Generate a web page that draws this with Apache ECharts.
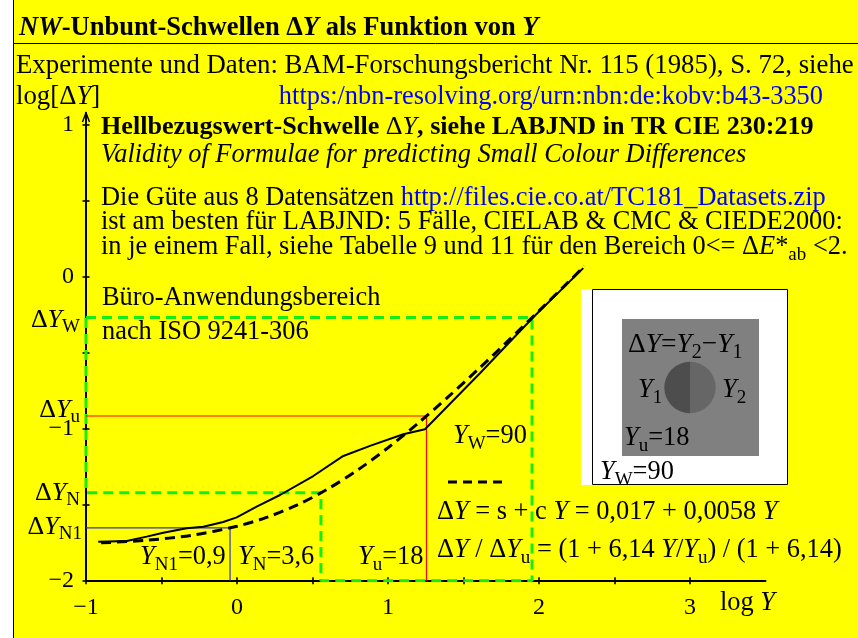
<!DOCTYPE html>
<html><head><meta charset="utf-8">
<script src="https://cdn.jsdelivr.net/npm/echarts@6/dist/echarts.min.js"></script>
<style>html,body{margin:0;padding:0;background:#fff}#c{width:858px;height:638px}</style>
</head><body><div id="c"></div>
<script>
// ---- data (log Y, log ΔY) ----
const solidLogY  = [-0.919,-0.730,-0.598,-0.488,-0.333,-0.223,-0.091,-0.002,0.130,0.285,0.505,0.704,0.881,1.101,1.245,1.609,1.962,2.293];
const solidLogDY = [-1.743,-1.739,-1.710,-1.684,-1.655,-1.645,-1.614,-1.583,-1.513,-1.436,-1.311,-1.179,-1.113,-1.036,-1.003,-0.635,-0.266,0.057];
const dashLogY   = [-0.9,-0.6,-0.3,0.0,0.2,0.4,0.6,0.8,1.0,1.2,1.4,1.6,1.8,2.0,2.2,2.3];
const dashLogDY  = [-1.751,-1.734,-1.701,-1.642,-1.582,-1.501,-1.397,-1.271,-1.125,-0.963,-0.789,-0.606,-0.417,-0.224,-0.029,0.070];
// thresholds: Y_N1=0.9, Y_N=3.6, Y_u=18, Y_W=90
const thrLogY  = {N1:-0.046, N:0.556, u:1.255, W:1.954};
const thrLogDY = {N1:-1.653, N:-1.421, u:-0.916, W:-0.268};
const xTicks = [-1,-0.5,0,0.5,1,1.5,2,2.5,3];
const xLabels = [-1,0,1,2,3];
const yTicks = [-2,-1.5,-1,-0.5,0,0.5,1];
const yLabels = [-2,-1,0,1];
const xMin=-1, xMax=3.5, yMin=-2, yMax=1.08;

const SERIF='"Liberation Serif","Times New Roman",serif';
function rich(fs){
  const sub=Math.round(fs*0.72);
  return {
    n:{fontSize:fs,fontFamily:SERIF,fill:'#000',lineHeight:fs+8},
    i:{fontSize:fs,fontFamily:SERIF,fontStyle:'italic',fill:'#000',lineHeight:fs+8},
    b:{fontSize:fs,fontFamily:SERIF,fontWeight:'bold',fill:'#000',lineHeight:fs+8},
    bi:{fontSize:fs,fontFamily:SERIF,fontWeight:'bold',fontStyle:'italic',fill:'#000',lineHeight:fs+8},
    s:{fontSize:sub,fontFamily:SERIF,fill:'#000',verticalAlign:'bottom',lineHeight:sub},
    u:{fontSize:fs,fontFamily:SERIF,fill:'#0000ff',lineHeight:fs+8}
  };
}
function T(x,y,text,fs,align){
  fs=fs||26.4;
  return {type:'text',x:x,y:y,z:50,silent:true,
    style:{text:text,rich:rich(fs),fontSize:fs,fontFamily:SERIF,
      align:align||'left',verticalAlign:'middle',textAlign:align||'left',textVerticalAlign:'middle'}};
}
function L(x1,y1,x2,y2,w,z){
  return {type:'line',shape:{x1:x1,y1:y1,x2:x2,y2:y2},style:{stroke:'#000',lineWidth:w||1},silent:true,z:z||0};
}
function pairs(xs,ys){return xs.map((x,i)=>[x,ys[i]]);}
const minus = v => (v<0?'\u2212':'')+Math.abs(v);

const chart = echarts.init(document.getElementById('c'),null,{renderer:'canvas'});
const axisLineStyle={color:'#000',width:2};
const tickStyle={color:'#000',width:1.6};
chart.setOption({
  animation:false,
  backgroundColor:'#ffff00',
  grid:{left:86,top:112.7,width:679.5,height:468,containLabel:false},
  xAxis:[
    {type:'value',min:xMin,max:xMax,position:'bottom',z:10,
     axisLine:{show:true,onZero:false,lineStyle:axisLineStyle},
     axisTick:{show:true,customValues:xTicks,length:3.5,lineStyle:tickStyle},
     axisLabel:{show:true,customValues:xLabels,formatter:minus,margin:15,
       fontSize:24,fontFamily:SERIF,color:'#000'},
     splitLine:{show:false}},
    {type:'value',min:xMin,max:xMax,position:'bottom',z:10,
     axisLine:{show:false,onZero:false},
     axisTick:{show:true,inside:true,customValues:xTicks,length:3.5,lineStyle:tickStyle},
     axisLabel:{show:false},splitLine:{show:false}}
  ],
  yAxis:[
    {type:'value',min:yMin,max:yMax,position:'left',z:10,
     axisLine:{show:true,onZero:false,lineStyle:axisLineStyle},
     axisTick:{show:true,customValues:yTicks,length:3.5,lineStyle:tickStyle},
     axisLabel:{show:true,customValues:yLabels,formatter:minus,margin:12,
       fontSize:24,fontFamily:SERIF,color:'#000'},
     splitLine:{show:false}},
    {type:'value',min:yMin,max:yMax,position:'left',z:10,
     axisLine:{show:false,onZero:false},
     axisTick:{show:true,inside:true,customValues:yTicks,length:3.5,lineStyle:tickStyle},
     axisLabel:{show:false},splitLine:{show:false}}
  ],
  series:[
    {type:'line',name:'green',symbol:'none',z:12,
     data:[[xMin,thrLogDY.W],[thrLogY.W,thrLogDY.W],[thrLogY.W,yMin],[thrLogY.N,yMin],
           [thrLogY.N,thrLogDY.N],[xMin,thrLogDY.N],[xMin,thrLogDY.W]],
     lineStyle:{color:'#11ee11',width:3,type:[10,6]}},
    {type:'line',name:'red',symbol:'none',z:13,
     data:[[xMin,thrLogDY.u],[thrLogY.u,thrLogDY.u],[thrLogY.u,yMin]],
     lineStyle:{color:'#ff0000',width:1.2}},
    {type:'line',name:'blue',symbol:'none',z:13,
     data:[[xMin,thrLogDY.N1],[thrLogY.N1,thrLogDY.N1],[thrLogY.N1,yMin]],
     lineStyle:{color:'#3333cc',width:1.2}},
    {type:'line',name:'formula',symbol:'none',z:14,smooth:0.3,
     data:pairs(dashLogY,dashLogDY),
     lineStyle:{color:'#000',width:3,type:[10,6]}},
    {type:'line',name:'data',symbol:'none',z:15,
     data:pairs(solidLogY,solidLogDY),
     lineStyle:{color:'#000',width:2}}
  ],
  graphic:[
    {type:'rect',shape:{x:0,y:0,width:13,height:638},style:{fill:'#fff'},silent:true},
    L(13.5,0,13.5,638,1),
    L(13,43.5,858,43.5,1),
    // y axis line (same place as the axis, beneath the series) + open arrow head
    L(86,112.7,86,581,2,5),
    L(82.5,122,86,112.7,1.4,100),
    L(89.5,122,86,112.7,1.4,100),
    T(19,28,'{bi|NW}{b|-Unbunt-Schwellen \u0394}{bi|Y}{b| als Funktion von }{bi|Y}',26.5),
    T(16,66,'{n|Experimente und Daten: BAM-Forschungsbericht Nr. 115 (1985), S. 72, siehe}',26.8),
    T(16,97,'{n|log[\u0394}{i|Y}{n|]}',26.8),
    T(823,97,'{u|https:/nbn-resolving.org/urn:nbn:de:kobv:b43-3350}',26.4,'right'),
    T(101,127,'{b|Hellbezugswert-Schwelle }{n|\u0394}{i|Y}{b|, siehe LABJND in TR CIE 230:219}',26.1),
    T(101,155,'{i|Validity of Formulae for predicting Small Colour Differences}'),
    T(101,198,'{n|Die G\u00fcte aus 8 Datens\u00e4tzen }{u|http://files.cie.co.at/TC181_Datasets.zip}'),
    T(101,222,'{n|ist am besten f\u00fcr LABJND: 5 F\u00e4lle, CIELAB & CMC & CIEDE2000:}'),
    T(101,247,'{n|in je einem Fall, siehe Tabelle 9 und 11 f\u00fcr den Bereich 0<= \u0394}{i|E}{n|*}{s|ab}{n| <2.}'),
    T(102,298,'{n|B\u00fcro-Anwendungsbereich}'),
    T(102,332,'{n|nach ISO 9241-306}'),
    T(80,320,'{n|\u0394}{i|Y}{s|W}',26,'right'),
    T(80,410,'{n|\u0394}{i|Y}{s|u}',26,'right'),
    T(80,493,'{n|\u0394}{i|Y}{s|N}',26,'right'),
    T(82,527,'{n|\u0394}{i|Y}{s|N1}',26,'right'),
    T(140,557,'{i|Y}{s|N1}{n|=0,9}'),
    T(238,557,'{i|Y}{s|N}{n|=3,6}'),
    T(358,557,'{i|Y}{s|u}{n|=18}'),
    T(453,436,'{i|Y}{s|W}{n|=90}'),
    {type:'line',shape:{x1:448,y1:482,x2:502,y2:482},style:{stroke:'#000',lineWidth:3,lineDash:[9,6]},silent:true,z:50},
    T(437,512,'{n|\u0394}{i|Y}{n| = s + c }{i|Y}{n| = 0,017 + 0,0058 }{i|Y}'),
    T(437,550,'{n|\u0394}{i|Y}{n| / \u0394}{i|Y}{s|u}{n| = (1 + 6,14 }{i|Y}{n|/}{i|Y}{s|u}{n|) / (1 + 6,14)}'),
    T(720,603,'{n|log }{i|Y}'),
    // inset
    {type:'rect',shape:{x:581,y:289,width:207,height:196},style:{fill:'#fff'},silent:true,z:40},
    {type:'rect',shape:{x:592.5,y:289.5,width:195,height:195},style:{fill:null,stroke:'#000',lineWidth:1},silent:true,z:41},
    {type:'rect',shape:{x:622,y:319,width:137,height:137},style:{fill:'#808080'},silent:true,z:42},
    {type:'sector',shape:{cx:690,cy:387.5,r0:0,r:25.7,startAngle:Math.PI/2,endAngle:Math.PI*1.5,clockwise:true},style:{fill:'#4d4d4d'},silent:true,z:43},
    {type:'sector',shape:{cx:690,cy:387.5,r0:0,r:25.7,startAngle:-Math.PI/2,endAngle:Math.PI/2,clockwise:true},style:{fill:'#666666'},silent:true,z:43},
    T(628,345,'{n|\u0394}{i|Y}{n|=}{i|Y}{s|2}{n|\u2212}{i|Y}{s|1}',27.5),
    T(638,390,'{i|Y}{s|1}'),
    T(722,390,'{i|Y}{s|2}'),
    T(624,438,'{i|Y}{s|u}{n|=18}'),
    T(600,472,'{i|Y}{s|W}{n|=90}')
  ]
});
</script></body></html>
